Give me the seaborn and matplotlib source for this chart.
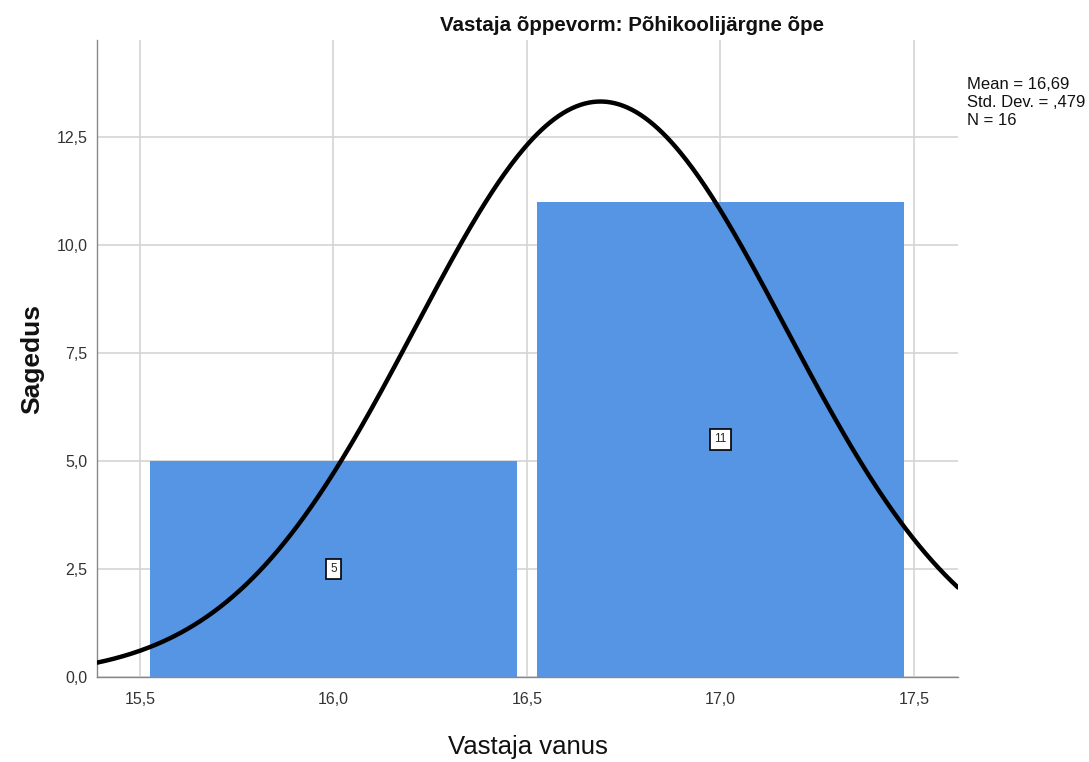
import numpy as np
import pandas as pd
import matplotlib
matplotlib.use("Agg")
import matplotlib.pyplot as plt
from matplotlib.ticker import FuncFormatter
import seaborn as sns

# Data
bin_centers = [16.0, 17.0]
counts = [5, 11]
bin_edges = [15.5, 16.5, 17.5]
mean_val = 16.69
sd_val = 0.479
n_val = 16
title = "Vastaja õppevorm: Põhikoolijärgne õpe"
xlabel = "Vastaja vanus"
ylabel = "Sagedus"
stats_text = "Mean = 16,69\nStd. Dev. = ,479\nN = 16"

sns.set_theme(style="white")
plt.rcParams['font.family'] = ['Liberation Sans', 'DejaVu Sans']

fig = plt.figure(figsize=(10.89, 7.62), dpi=100)
ax = fig.add_axes([0.0891, 0.1115, 0.7906, 0.836])

df = pd.DataFrame({"age": bin_centers, "n": counts})
sns.histplot(data=df, x="age", weights="n", bins=bin_edges, shrink=0.947,
             color="#5694e4", alpha=1, edgecolor="none", linewidth=0, ax=ax, zorder=2)

xmin, xmax = 15.389, 17.614
xs = np.linspace(xmin, xmax, 400)
ys = n_val * 1.0 / (sd_val * np.sqrt(2 * np.pi)) * np.exp(-0.5 * ((xs - mean_val) / sd_val) ** 2)
sns.lineplot(x=xs, y=ys, color="black", linewidth=3.2, ax=ax, zorder=4)

for c, v in zip(bin_centers, counts):
    ax.text(c, v / 2, str(v), ha="center", va="center", fontsize=8.5, zorder=5,
            bbox=dict(boxstyle="square,pad=0.35", facecolor="white", edgecolor="black", linewidth=1.2))

ax.set_xlim(xmin, xmax)
ax.set_ylim(0, 14.75)
ax.set_xticks([15.5, 16.0, 16.5, 17.0, 17.5])
ax.set_yticks([0, 2.5, 5.0, 7.5, 10.0, 12.5])
fmt = FuncFormatter(lambda v, p: f"{v:.1f}".replace(".", ","))
ax.xaxis.set_major_formatter(fmt)
ax.yaxis.set_major_formatter(fmt)
ax.grid(True, color="#d4d4d4", linewidth=1.2, zorder=0)
ax.set_axisbelow(True)
for s in ["top", "right"]:
    ax.spines[s].set_visible(False)
for s in ["left", "bottom"]:
    ax.spines[s].set_color("#888888")
    ax.spines[s].set_linewidth(1.0)
ax.tick_params(axis="both", labelsize=11.5, colors="#333333", length=0)
ax.tick_params(axis="x", pad=11)
ax.tick_params(axis="y", pad=7)
ax.set_xlabel(xlabel, fontsize=18.5, labelpad=20, color="#111111")
ax.set_ylabel(ylabel, fontsize=19, fontweight="bold", labelpad=9, color="#111111")

fig.text(0.580, 0.967, title, fontsize=14.8, fontweight="bold", ha="center", va="center", color="#111111")

fig.text(0.888, 0.899, stats_text, fontsize=12, va="top", ha="left", color="#111111", linespacing=1.25)

fig.savefig("out.png", dpi=100, facecolor="white")
